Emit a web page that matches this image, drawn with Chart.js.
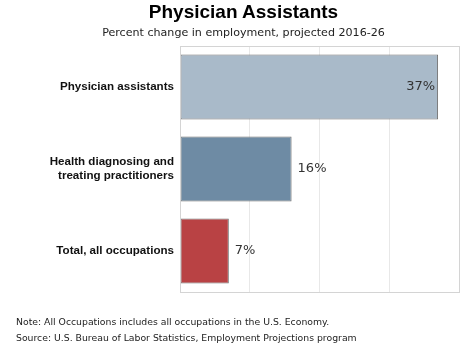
<!DOCTYPE html>
<html>
<head>
<meta charset="utf-8">
<script src="https://cdn.jsdelivr.net/npm/chart.js@4/dist/chart.umd.min.js"></script>
<style>
  html, body { margin: 0; padding: 0; background: #fff; }
  #wrap { position: relative; width: 474px; height: 349px; overflow: hidden; }
  #c { position: absolute; left: 0; top: 0; }
  .t { position: absolute; white-space: nowrap; color: #000; }
  #title { left: 0; width: 487px; text-align: center; top: 1px; font: bold 19px "Liberation Sans", Arial, sans-serif; }
  #sub { left: 0; width: 487px; text-align: center; top: 26px; font: 11.1px "DejaVu Sans", Verdana, sans-serif; color: #222; }
  .note { left: 16px; font: 9.3px "DejaVu Sans", Tahoma, sans-serif; color: #222; }
</style>
</head>
<body>
<div id="wrap">
  <canvas id="c" width="474" height="349"></canvas>
  <div class="t" id="title">Physician Assistants</div>
  <div class="t" id="sub">Percent change in employment, projected 2016-26</div>
  <div class="t note" style="top:316px">Note: All Occupations includes all occupations in the U.S. Economy.</div>
  <div class="t note" style="top:332px">Source: U.S. Bureau of Labor Statistics, Employment Projections program</div>
</div>
<script>
const categories = [
  "Physician assistants",
  ["Health diagnosing and", "treating practitioners"],
  "Total, all occupations"
];
const values = [37, 16, 7];
const barColors = ["#a9bac9", "#6e8ba4", "#b94244"];
const xTicks = [0, 10, 20, 30, 40];

const valueLabels = {
  id: 'valueLabels',
  afterDatasetsDraw(chart) {
    const ctx = chart.ctx;
    const meta = chart.getDatasetMeta(0);
    ctx.save();
    ctx.font = '13px "DejaVu Sans", Verdana, sans-serif';
    ctx.fillStyle = '#333';
    ctx.textBaseline = 'middle';
    meta.data.forEach((bar, i) => {
      const txt = values[i] + '%';
      if (i === 0) {
        ctx.textAlign = 'right';
        ctx.fillText(txt, bar.x - 3, bar.y);
      } else {
        ctx.textAlign = 'left';
        ctx.fillText(txt, bar.x + 6, bar.y);
      }
    });
    ctx.restore();
  }
};

const frame = {
  id: 'frame',
  afterDraw(chart) {
    const a = chart.chartArea, ctx = chart.ctx;
    ctx.save();
    ctx.strokeStyle = '#d4d4d4';
    ctx.lineWidth = 1;
    ctx.strokeRect(Math.round(a.left) + 0.5, Math.round(a.top) + 0.5, Math.round(a.right - a.left), Math.round(a.bottom - a.top));
    ctx.restore();
  }
};

new Chart(document.getElementById('c'), {
  type: 'bar',
  data: {
    labels: categories,
    datasets: [{
      data: values,
      backgroundColor: barColors,
      borderColor: '#6f6f6f',
      borderWidth: 1,
      borderSkipped: false,
      barPercentage: 0.79,
      categoryPercentage: 1.0
    }]
  },
  options: {
    indexAxis: 'y',
    responsive: false,
    animation: false,
    devicePixelRatio: 1,
    layout: { padding: { left: 0, right: 15, top: 46, bottom: 57 } },
    plugins: { legend: { display: false }, title: { display: false }, tooltip: { enabled: false } },
    scales: {
      x: {
        min: xTicks[0], max: xTicks[xTicks.length - 1],
        afterBuildTicks(scale) { scale.ticks = xTicks.map(v => ({ value: v })); },
        ticks: { display: false },
        grid: { color: '#e8e8e8', drawTicks: false, tickLength: 0 },
        border: { display: false }
      },
      y: {
        afterFit(scale) { scale.width = 180; },
        ticks: {
          color: '#111',
          font: { family: '"Liberation Sans", Arial, sans-serif', size: 11.6, weight: 'bold', lineHeight: 1.22 },
          padding: 6,
          crossAlign: 'near'
        },
        grid: { display: false, drawTicks: false },
        border: { display: false }
      }
    }
  },
  plugins: [valueLabels, frame]
});
</script>
</body>
</html>
